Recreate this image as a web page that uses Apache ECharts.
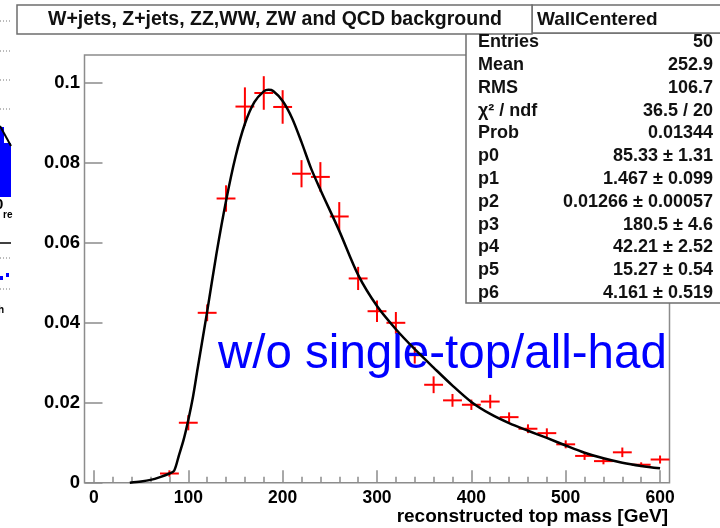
<!DOCTYPE html>
<html>
<head>
<meta charset="utf-8">
<script src="https://cdn.jsdelivr.net/npm/echarts@6/dist/echarts.min.js"></script>
<style>
  html, body { margin: 0; padding: 0; background: #ffffff; }
  #chart { width: 720px; height: 528px; }
</style>
</head>
<body>
<div id="chart"></div>
<script>
// Histogram bins (centre, content, vertical error), bin width 20 GeV
const binCenters = [80, 100, 120, 140, 160, 180, 200, 220, 240, 260, 280, 300, 320, 340,
                    360, 380, 400, 420, 440, 460, 480, 500, 520, 540, 560, 580, 600];
const binContents = [0.0023, 0.0150, 0.0425, 0.0711, 0.0941, 0.0975, 0.0940, 0.0773, 0.0765,
                     0.0666, 0.0511, 0.0429, 0.0400, 0.0319, 0.0245, 0.0206, 0.0195, 0.0203,
                     0.0164, 0.0135, 0.0124, 0.0096, 0.0067, 0.0054, 0.0076, 0.0045, 0.0058];
const binErrors = [0.0008, 0.0019, 0.0021, 0.0033, 0.0048, 0.0042, 0.0042, 0.0034, 0.0037,
                   0.0036, 0.0029, 0.0027, 0.0027, 0.0021, 0.0021, 0.0016, 0.0013, 0.0017,
                   0.0012, 0.0011, 0.0012, 0.0010, 0.0010, 0.0008, 0.0012, 0.0006, 0.0010];
const binHalfWidth = 10;

// Fitted function sampled along the mass axis
const fitMass = [38, 50, 60, 70, 80, 85, 90, 95, 100, 105, 110, 120, 130, 140, 150, 160, 170,
                 180, 185, 190, 200, 210, 220, 230, 240, 260, 280, 300, 320, 340, 360, 380,
                 400, 420, 440, 460, 480, 500, 520, 540, 560, 580, 600];
const fitValues = [0, 0.0003, 0.0007, 0.0014, 0.0023, 0.0030, 0.0068, 0.0107, 0.0157, 0.0215,
                   0.0287, 0.0428, 0.0575, 0.0705, 0.0815, 0.0898, 0.0952, 0.0979, 0.0983,
                   0.0980, 0.0955, 0.0912, 0.0852, 0.0787, 0.0733, 0.0630, 0.0520, 0.0442,
                   0.0384, 0.0334, 0.0288, 0.0243, 0.0202, 0.0172, 0.0149, 0.0130, 0.0112,
                   0.0093, 0.0075, 0.0061, 0.0050, 0.0042, 0.0036];

// Axis ticks
const xMajorTicks = [0, 100, 200, 300, 400, 500, 600];
const xMinorTicks = [20, 40, 60, 80, 120, 140, 160, 180, 220, 240, 260, 280, 320, 340, 360, 380,
                     420, 440, 460, 480, 520, 540, 560, 580];
const yMajorTicks = [0, 0.02, 0.04, 0.06, 0.08, 0.1];

// Text
const plotTitle = 'W+jets, Z+jets, ZZ,WW, ZW and QCD background';
const histName = 'WallCentered';
const xTitle = 'reconstructed top mass [GeV]';
const annotation = 'w/o single-top/all-had';
const statsLabels = ['Entries', 'Mean', 'RMS', 'χ² / ndf', 'Prob', 'p0', 'p1', 'p2', 'p3', 'p4', 'p5', 'p6'];
const statsValues = ['50', '252.9', '106.7', '36.5 / 20', '0.01344', '85.33 ± 1.31', '1.467 ± 0.099',
                     '0.01266 ± 0.00057', '180.5 ± 4.6', '42.21 ± 2.52', '15.27 ± 0.54', '4.161 ± 0.519'];

const FONT = '"Liberation Sans", Arial, Helvetica, sans-serif';
const FRAME = '#8c8c8c';
const BOX = '#6e6e6e';

const chart = echarts.init(document.getElementById('chart'), null, { renderer: 'canvas' });

const axisCommon = {
  type: 'value', min: -10, max: 610, position: 'bottom',
  axisLine: { onZero: false, show: false },
  splitLine: { show: false }
};

// Stats box rows
const statsGraphics = [];
statsLabels.forEach((lab, i) => {
  const y = 42.3 + i * 22.8;
  statsGraphics.push({
    type: 'text', x: 478, y: y, z: 21,
    style: { text: lab, font: 'bold 18px ' + FONT, fill: '#111', align: 'left', verticalAlign: 'middle' }
  });
  statsGraphics.push({
    type: 'text', x: 713, y: y, z: 21,
    style: { text: statsValues[i], font: 'bold 18px ' + FONT, fill: '#111', align: 'right', verticalAlign: 'middle' }
  });
});

// Fragments of the neighbouring pad at the left edge
const sideGraphics = [
  ...[21, 51, 80, 109, 258, 289].map(y => ({
    type: 'line', z: 1, shape: { x1: 0, y1: y, x2: 11, y2: y },
    style: { stroke: '#777', lineWidth: 1, lineDash: [1, 2] }
  })),
  { type: 'rect', z: 1, shape: { x: 0, y: 127, width: 4, height: 70 }, style: { fill: '#0000ff' } },
  { type: 'rect', z: 1, shape: { x: 4, y: 143, width: 7, height: 54 }, style: { fill: '#0000ff' } },
  { type: 'line', z: 1, shape: { x1: 0, y1: 126, x2: 11, y2: 146 }, style: { stroke: '#000', lineWidth: 2 } },
  { type: 'text', z: 1, x: -5, y: 205, style: { text: '0', font: 'bold 15px ' + FONT, fill: '#000', verticalAlign: 'middle' } },
  { type: 'text', z: 1, x: 3, y: 215, style: { text: 're', font: 'bold 10px ' + FONT, fill: '#000', verticalAlign: 'middle' } },
  { type: 'line', z: 1, shape: { x1: 0, y1: 243, x2: 11, y2: 243 }, style: { stroke: '#000', lineWidth: 1.5 } },
  { type: 'rect', z: 1, shape: { x: 0, y: 276, width: 3, height: 4 }, style: { fill: '#0000ff' } },
  { type: 'rect', z: 1, shape: { x: 6, y: 273, width: 3, height: 4 }, style: { fill: '#0000ff' } },
  { type: 'text', z: 1, x: -2, y: 310, style: { text: 'h', font: 'bold 10px ' + FONT, fill: '#000', verticalAlign: 'middle' } }
];

const option = {
  backgroundColor: '#ffffff',
  animation: false,
  grid: {
    left: 84.5, right: 50.5, top: 55, bottom: 45.3,
    show: true, borderColor: FRAME, borderWidth: 1.5, backgroundColor: 'transparent'
  },
  xAxis: [
    Object.assign({}, axisCommon, {
      axisTick: { show: true, inside: true, length: 12.5, customValues: xMajorTicks,
                  lineStyle: { color: FRAME, width: 1.5 } },
      axisLabel: { show: true, customValues: xMajorTicks, margin: 6.5, color: '#000',
                   fontFamily: FONT, fontWeight: 'bold', fontSize: 17.5 }
    }),
    Object.assign({}, axisCommon, {
      axisTick: { show: true, inside: true, length: 6, customValues: xMinorTicks,
                  lineStyle: { color: FRAME, width: 1.5 } },
      axisLabel: { show: false }
    })
  ],
  yAxis: {
    type: 'value', min: 0, max: 0.107, position: 'left',
    axisLine: { show: false, onZero: false },
    splitLine: { show: false },
    axisTick: { show: true, inside: true, length: 18, customValues: yMajorTicks,
                lineStyle: { color: FRAME, width: 1.5 } },
    axisLabel: { show: true, customValues: yMajorTicks, margin: 4.5, color: '#000',
                 fontFamily: FONT, fontWeight: 'bold', fontSize: 18.5,
                 formatter: v => String(+v.toFixed(4)) }
  },
  series: [
    {
      name: 'histogram',
      type: 'custom',
      xAxisIndex: 0, yAxisIndex: 0,
      z: 3,
      clip: false,
      data: binCenters.map((x, i) => [x, binContents[i], binErrors[i]]),
      encode: { x: 0, y: 1 },
      renderItem: function (params, api) {
        const x = api.value(0), y = api.value(1), e = api.value(2);
        const c = api.coord([x, y]);
        const l = api.coord([x - binHalfWidth, y]);
        const r = api.coord([x + binHalfWidth, y]);
        const t = api.coord([x, y + e]);
        const b = api.coord([x, y - e]);
        const st = { stroke: '#ff0000', lineWidth: 2 };
        return {
          type: 'group',
          children: [
            { type: 'line', shape: { x1: l[0], y1: c[1], x2: r[0], y2: c[1] }, style: st },
            { type: 'line', shape: { x1: c[0], y1: t[1], x2: c[0], y2: b[1] }, style: st }
          ]
        };
      }
    },
    {
      name: 'fit',
      type: 'line',
      xAxisIndex: 0, yAxisIndex: 0,
      z: 5,
      data: fitMass.map((m, i) => [m, fitValues[i]]),
      showSymbol: false,
      smooth: 0.3,
      lineStyle: { color: '#000', width: 2.5 }
    }
  ],
  graphic: [
    ...sideGraphics,
    // annotation
    { type: 'text', x: 218, y: 355.3, z: 4,
      style: { text: annotation, font: '47.5px ' + FONT, fill: '#0000ff', align: 'left', verticalAlign: 'middle' } },
    // axis title
    { type: 'text', x: 668, y: 516.3, z: 4,
      style: { text: xTitle, font: 'bold 19px ' + FONT, fill: '#000', align: 'right', verticalAlign: 'middle' } },
    // statistics box
    { type: 'rect', z: 20, shape: { x: 466, y: 33, width: 262, height: 270 },
      style: { fill: '#fff', stroke: BOX, lineWidth: 1.5 } },
    { type: 'rect', z: 20, shape: { x: 532, y: 5, width: 196, height: 28 },
      style: { fill: '#fff', stroke: BOX, lineWidth: 1.5 } },
    { type: 'text', x: 537, y: 20, z: 21,
      style: { text: histName, font: 'bold 19px ' + FONT, fill: '#111', align: 'left', verticalAlign: 'middle' } },
    ...statsGraphics,
    // title box
    { type: 'rect', z: 20, shape: { x: 17, y: 5, width: 515, height: 29 },
      style: { fill: '#fff', stroke: BOX, lineWidth: 1.5 } },
    { type: 'text', x: 275, y: 20, z: 21,
      style: { text: plotTitle, font: 'bold 19.5px ' + FONT, fill: '#111', align: 'center', verticalAlign: 'middle' } }
  ]
};

chart.setOption(option);
</script>
</body>
</html>
